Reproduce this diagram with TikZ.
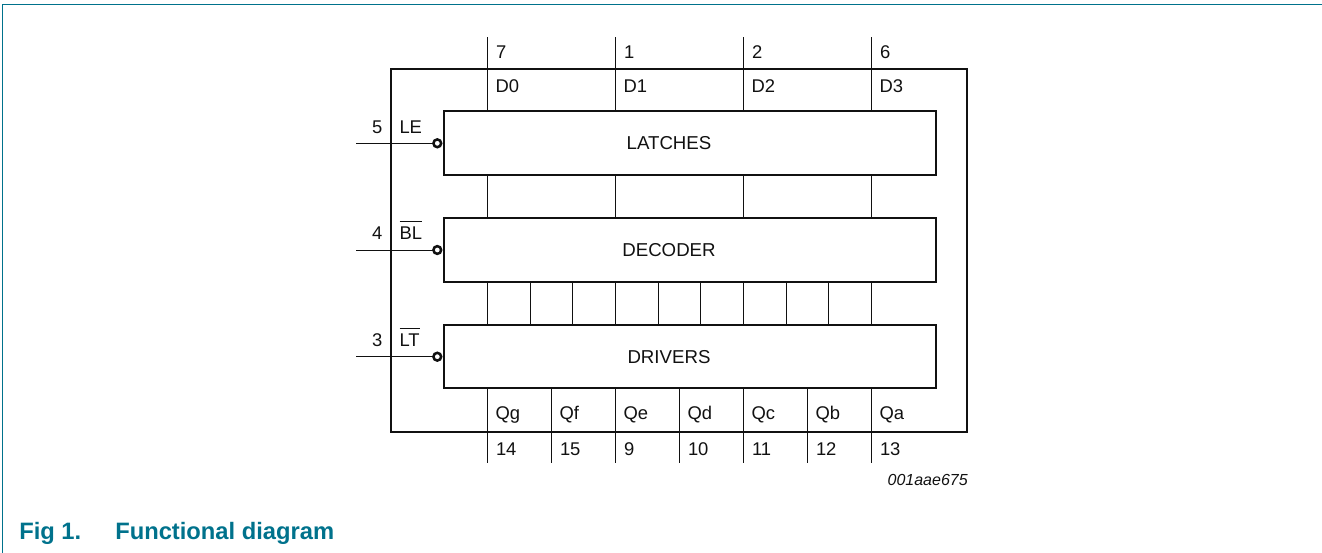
\documentclass[tikz,border=0pt]{standalone}
\usepackage{fontspec}
\setmainfont{Liberation Sans}
\definecolor{nxp}{HTML}{00728C}
\definecolor{ink}{HTML}{111111}
\newcommand{\barred}[1]{\leavevmode\setbox0\hbox{#1}\rlap{\rule[12.4pt]{\wd0}{0.8pt}}\box0}
\tikzset{
  thick line/.style={draw=ink,line width=1.9pt},
  wire/.style={draw=ink,line width=0.72pt},
  blockbox/.style={draw=ink,line width=1.7pt,fill=white,anchor=north west,inner sep=0pt,outer sep=0pt,minimum width=369pt},
  bubble/.style={circle,thick line,fill=white,inner sep=0pt,outer sep=0pt,minimum size=5.8pt},
  lab/.style={anchor=base west,inner sep=0pt,outer sep=0pt,text=ink,font=\fontsize{13.8}{16}\selectfont},
  blocklab/.style={anchor=base,inner sep=0pt,outer sep=0pt,text=ink,font=\fontsize{14}{16}\selectfont},
}
\begin{document}
\begin{tikzpicture}[x=0.75pt,y=-0.75pt]
\useasboundingbox (0,0) rectangle (1322,553);
% page frame
\coordinate (fa) at (2.7,553);
\coordinate (fb) at (2.7,4.6);
\coordinate (fc) at (1322,4.6);
\draw[nxp,line width=1pt] (fa) -- (fb) -- (fc);
% outer box
\node[thick line,anchor=north west,inner sep=0pt,outer sep=0pt,minimum width=432pt,minimum height=272.25pt] (outer) at (391,69) {};
% blocks
\node[blockbox,minimum height=48.2pt] (latches) at (444.3,111) {};
\node[blockbox,minimum height=48pt] (decoder) at (444.3,218) {};
\node[blockbox,minimum height=47.7pt] (drivers) at (444.3,324.7) {};
\node[blocklab] (tlatches) at (669,149.5) {LATCHES};
\node[blocklab] (tdecoder) at (669,256.5) {DECODER};
\node[blocklab] (tdrivers) at (669,363) {DRIVERS};
% input pins
\foreach \x/\n in {487/a,615/b,743/c,871/d}{
  \coordinate (top\n) at (\x,37);
  \draw[wire] (top\n) -- (top\n |- latches.north);
  \draw[wire] (top\n |- latches.south) -- (top\n |- decoder.north);
}
% decoder to drivers
\foreach \x/\n in {487/a,530/b,572.6/c,615/d,658/e,700.7/f,743/g,786/h,828.7/i,871/j}{
  \coordinate (mid\n) at (\x,300);
  \draw[wire] (mid\n |- decoder.south) -- (mid\n |- drivers.north);
}
% output pins
\foreach \x/\n in {487/a,551/b,615/c,679/d,743/e,807/f,871/g}{
  \coordinate (bot\n) at (\x,463);
  \draw[wire] (bot\n |- drivers.south) -- (bot\n);
}
% control inputs
\foreach \y/\n in {143.3/le,250/bl,356.7/lt}{
  \node[bubble] (bub\n) at (437.3,\y) {};
  \coordinate (pin\n) at (356,\y);
  \draw[wire] (pin\n) -- (bub\n.west);
}
% labels
\node[lab] (n7) at (496,58.3) {7};
\node[lab] (n1) at (624,58.3) {1};
\node[lab] (n2) at (752,58.3) {2};
\node[lab] (n6) at (880,58.3) {6};
\node[lab] (d0) at (495.5,92.3) {D0};
\node[lab] (d1) at (623.5,92.3) {D1};
\node[lab] (d2) at (751.5,92.3) {D2};
\node[lab] (d3) at (879.5,92.3) {D3};
\node[lab] (n5) at (372,133) {5};
\node[lab] (le) at (399.5,133) {LE};
\node[lab] (n4) at (372,239) {4};
\node[lab] (bl) at (399.5,239) {\barred{BL}};
\node[lab] (n3) at (372,346) {3};
\node[lab] (lt) at (399.5,346) {\barred{LT}};
\node[lab] (qg) at (495.5,419) {Qg};
\node[lab] (qf) at (559.5,419) {Qf};
\node[lab] (qe) at (623.5,419) {Qe};
\node[lab] (qd) at (687.5,419) {Qd};
\node[lab] (qc) at (751.5,419) {Qc};
\node[lab] (qb) at (815.5,419) {Qb};
\node[lab] (qa) at (879.5,419) {Qa};
\node[lab] (n14) at (496,455) {14};
\node[lab] (n15) at (560,455) {15};
\node[lab] (n9) at (624,455) {9};
\node[lab] (n10) at (688,455) {10};
\node[lab] (n11) at (752,455) {11};
\node[lab] (n12) at (816,455) {12};
\node[lab] (n13) at (880,455) {13};
\node[anchor=base east,inner sep=0pt,text=ink,font=\fontsize{12}{14}\selectfont\itshape] (ref) at (968,485) {001aae675};
% caption
\node[anchor=base west,inner sep=0pt,text=nxp,font=\fontsize{17.8}{20}\selectfont\bfseries] (figno) at (19,539) {Fig 1.};
\node[anchor=base west,inner sep=0pt,text=nxp,font=\fontsize{17.8}{20}\selectfont\bfseries] (figcap) at (115,539) {Functional diagram};
\end{tikzpicture}
\end{document}
